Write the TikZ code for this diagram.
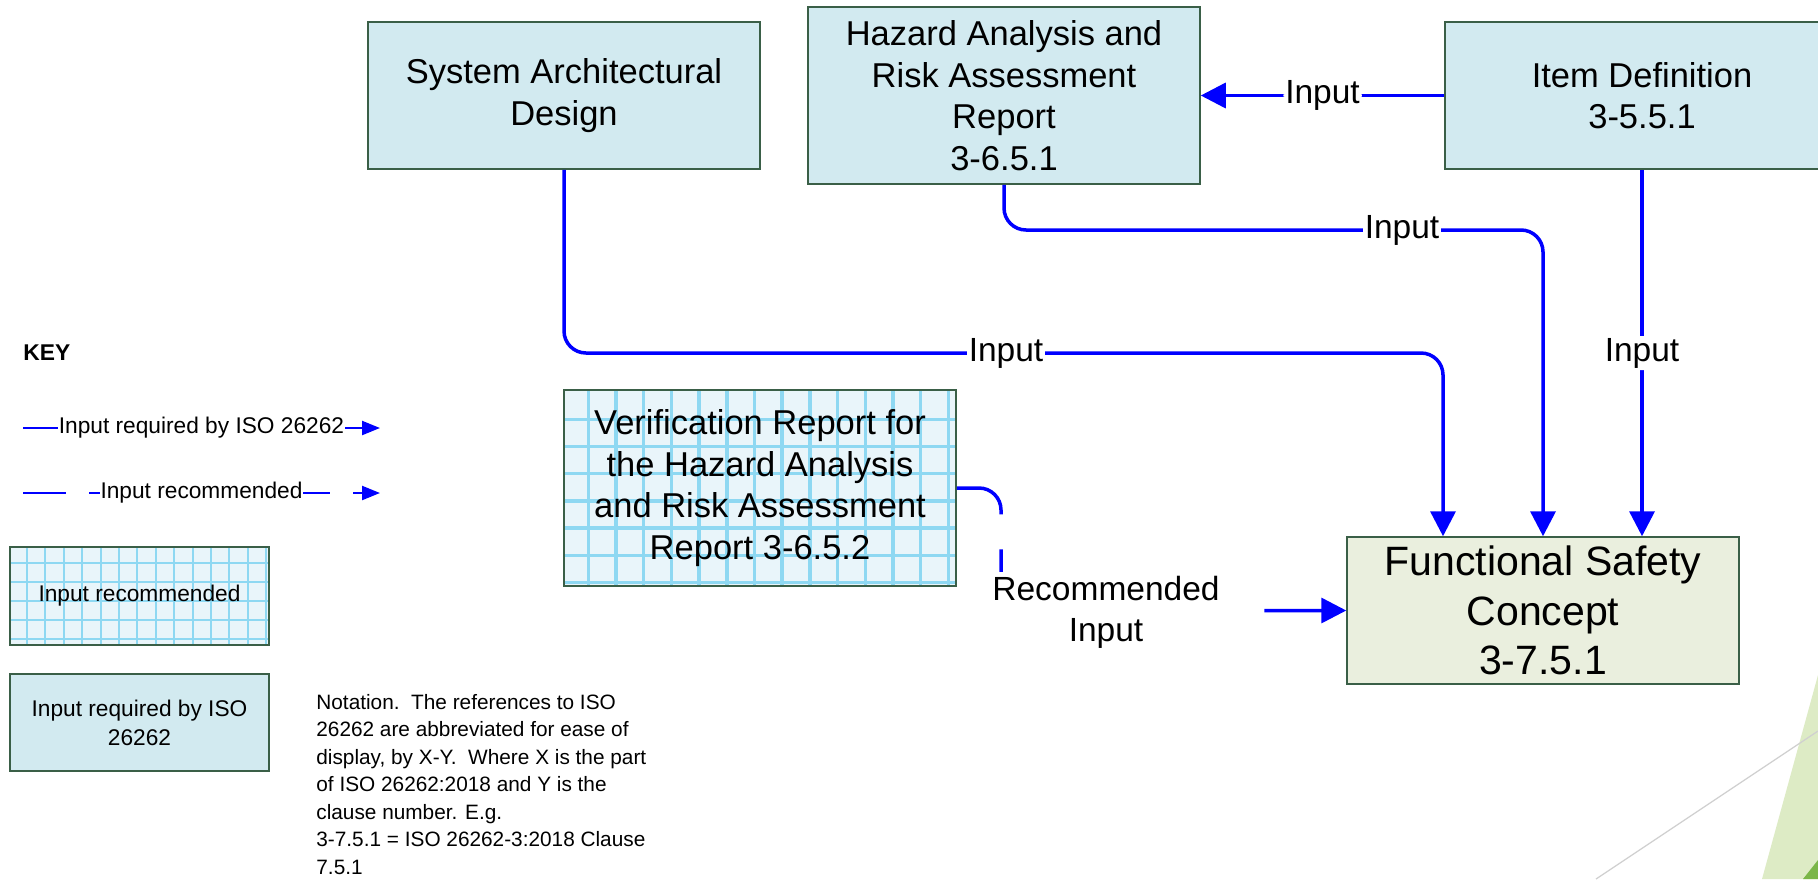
\documentclass[tikz,border=0pt]{standalone}
\usepackage{fontspec}
\setmainfont{Liberation Sans}
\usetikzlibrary{arrows.meta,calc}
\definecolor{boxblue}{HTML}{D2EAF0}
\definecolor{boxedge}{HTML}{3A5F47}
\definecolor{fscfill}{HTML}{EAEFDE}
\definecolor{gridbg}{HTML}{E9F5FA}
\definecolor{gridln}{HTML}{8ED8F2}
\definecolor{arrowblue}{HTML}{0000FF}
\definecolor{lightgreen}{HTML}{DDEBC5}
\definecolor{darkgreen}{HTML}{7AB648}
\definecolor{decogray}{HTML}{D0D0D0}
\begin{document}
\begin{tikzpicture}[x=0.5pt,y=-0.5pt,
  box/.style={draw=boxedge, line width=0.75pt, fill=boxblue, align=center, inner sep=0pt,
    font=\fontsize{17.25}{20.75}\selectfont},
  req/.style={draw=arrowblue, line width=1.75pt, -{Triangle[length=12.5pt,width=12.5pt]}, rounded corners=11pt},
  rec/.style={req, dash pattern=on 35pt off 17.5pt, dash phase=4.5pt},
  legreq/.style={draw=arrowblue, line width=1.15pt, -{Triangle[length=9pt,width=7pt]}},
  legrec/.style={legreq, dash pattern=on 21.5pt off 11.5pt},
  lbl/.style={fill=white, inner sep=1pt, font=\fontsize{16.75}{20.5}\selectfont},
  keylbl/.style={fill=white, inner sep=0.5pt, font=\fontsize{11.35}{14}\selectfont},
  biggrid/.style={path picture={
    \foreach \i in {0,...,13}{\draw[gridln, line width=1.75pt]
      ($(path picture bounding box.north west)+({24.3+27.7*\i},-10)$) -- ++(0,230);}
    \foreach \j in {0,...,6}{\draw[gridln, line width=1.75pt]
      ($(path picture bounding box.north west)+(-10,{29.3+27.2*\j})$) -- ++(420,0);}
  }},
  smallgrid/.style={path picture={
    \foreach \i in {0,...,13}{\draw[gridln, line width=1pt]
      ($(path picture bounding box.north west)+({17+18.4*\i},-10)$) -- ++(0,130);}
    \foreach \j in {0,...,4}{\draw[gridln, line width=1pt]
      ($(path picture bounding box.north west)+(-10,{16+19*\j})$) -- ++(290,0);}
  }}
]
\useasboundingbox (0,0) rectangle (1818,879);
\fill[white] (0,0) rectangle (1818,879);
\clip (0,0) rectangle (1818,879);

% decoration bottom right
\fill[lightgreen] (1762,879) -- (1818,675) -- (1818,879) -- cycle;
\fill[darkgreen] (1803,879) -- (1818,860) -- (1818,879) -- cycle;
\draw[decogray, line width=0.6pt] (1596,879) -- (1818,731);

% main boxes
\node[box, minimum width=196pt, minimum height=73.5pt] (sad) at (564,95.5) {System Architectural\\Design};
\node[box, minimum width=196pt, minimum height=88.5pt] (hara) at (1004,95.5) {Hazard Analysis and\\Risk Assessment\\Report\\3-6.5.1};
\node[box, minimum width=197pt, minimum height=73.5pt] (item) at (1642,95.5) {Item Definition\\3-5.5.1};
\node[box, fill=fscfill, font=\fontsize{20.5}{24.75}\selectfont, minimum width=196pt, minimum height=73.5pt] (fsc) at (1543,610.5) {Functional Safety\\Concept\\3-7.5.1};
\node[box, fill=gridbg, biggrid, minimum width=196pt, minimum height=98pt] (verif) at (760,488) {Verification Report for\\the Hazard Analysis\\and Risk Assessment\\Report 3-6.5.2};

% connectors
\draw[req] (item.west) -- node[lbl] (l1) {Input} (hara.east);
\coordinate (hturn) at (1004,230);
\draw[req] (hara.south) -- (hturn) -| (fsc.north);
\node[lbl] (l2) at (1402,230) {Input};
\coordinate (sturn) at (564,353);
\draw[req] (sad.south) -- (sturn) -| ($(fsc.north)+(-100,0)$);
\node[lbl] (l3) at (1006,353) {Input};
\draw[req] (item.south) -- node[lbl] (l4) {Input} (item.south |- fsc.north);
\coordinate (vturn) at (1001,610.5);
\draw[rec] (verif.east) -| (vturn) [sharp corners] -- (fsc.west);
\node[lbl, align=center, inner ysep=2pt, inner xsep=5pt] (l5) at (1106,612) {Recommended\\Input};

% key
\node[font=\bfseries\fontsize{11.4}{13}\selectfont, anchor=west, inner sep=0pt] (key) at (23,353) {KEY};
\coordinate (k1a) at (23,428);
\coordinate (k1b) at (380,428);
\draw[legreq] (k1a) -- node[keylbl] (kl1) {Input required by ISO 26262} (k1b);
\coordinate (k2a) at (23,493);
\coordinate (k2b) at (380,493);
\draw[legrec] (k2a) -- node[keylbl] (kl2) {Input recommended} (k2b);
\node[box, fill=gridbg, smallgrid, minimum width=129.5pt, minimum height=49pt, font=\fontsize{11.35}{14.5}\selectfont] (lg1) at (139.5,596) {Input recommended};
\node[box, minimum width=129.5pt, minimum height=48.5pt, font=\fontsize{11.35}{14.5}\selectfont] (lg2) at (139.5,722.5) {Input required by ISO\\26262};

% notation
\node[anchor=north west, align=left, inner sep=0pt, font=\fontsize{10.4}{13.75}\selectfont] (note) at (316,694) {Notation.\ \ The references to ISO\\26262 are abbreviated for ease of\\display, by X-Y.\ \ Where X is the part\\of ISO 26262:2018 and Y is the\\clause number. E.g.\\3-7.5.1 = ISO 26262-3:2018 Clause\\7.5.1};
\end{tikzpicture}
\end{document}
